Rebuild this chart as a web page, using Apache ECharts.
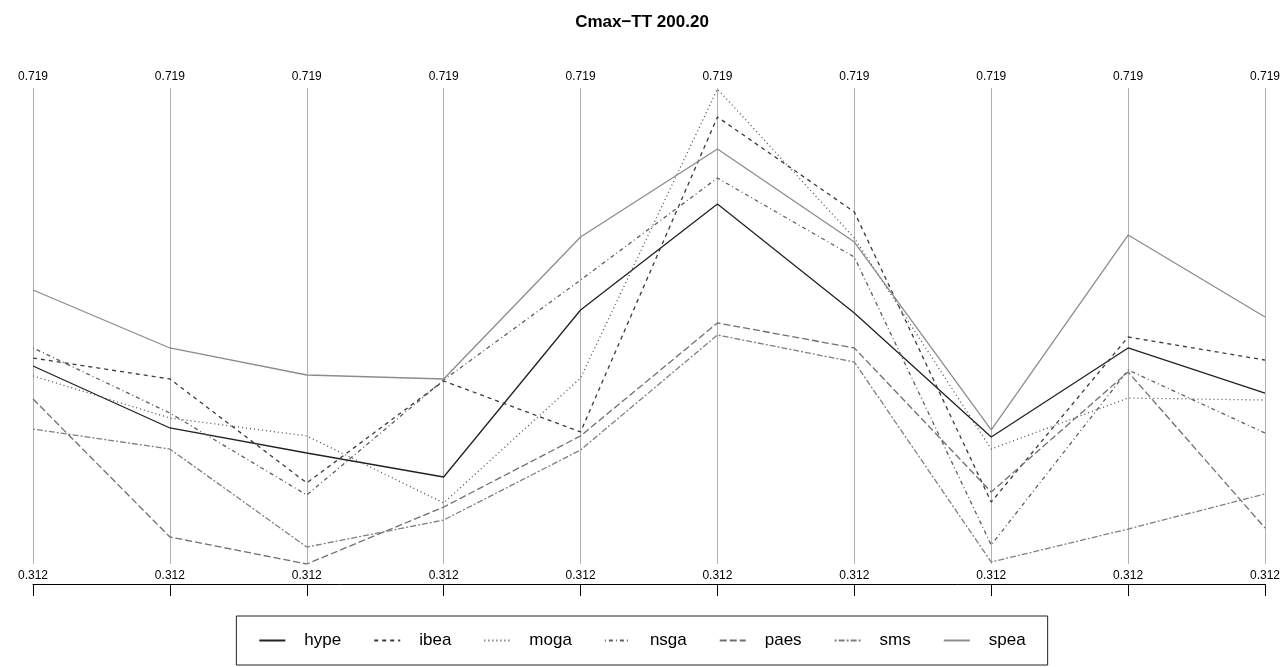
<!DOCTYPE html>
<html>
<head>
<meta charset="utf-8">
<script src="https://cdn.jsdelivr.net/npm/echarts@6/dist/echarts.min.js"></script>
<style>html,body{margin:0;padding:0;background:#fff}#c{width:1284px;height:667px}</style>
</head>
<body>
<div id="c"></div>
<script>
// ---- data ----
const categories = ['1','2','3','4','5','6','7','8','9','10'];
const topLabels = ['0.719','0.719','0.719','0.719','0.719','0.719','0.719','0.719','0.719','0.719'];
const bottomLabels = ['0.312','0.312','0.312','0.312','0.312','0.312','0.312','0.312','0.312','0.312'];
const yMin = 0.312, yMax = 0.719;
const seriesNames = ['hype','ibea','moga','nsga','paes','sms','spea'];
const hype = [0.4813, 0.4283, 0.4069, 0.3864, 0.5292, 0.6198, 0.5266, 0.4206, 0.4967, 0.4582];
const ibea = [0.4881, 0.4702, 0.3813, 0.4685, 0.4249, 0.6942, 0.6130, 0.3650, 0.5061, 0.4864];
const moga = [0.4728, 0.4368, 0.4215, 0.3642, 0.4710, 0.7181, 0.5907, 0.4103, 0.4539, 0.4522];
const nsga = [0.4967, 0.4411, 0.3710, 0.4693, 0.5548, 0.6420, 0.5745, 0.3282, 0.4779, 0.4240];
const paes = [0.4531, 0.3351, 0.3120, 0.3607, 0.4215, 0.5181, 0.4967, 0.3736, 0.4762, 0.3428];
const sms  = [0.4274, 0.4103, 0.3265, 0.3496, 0.4095, 0.5078, 0.4847, 0.3137, 0.3419, 0.3719];
const spea = [0.5463, 0.4967, 0.4736, 0.4702, 0.5916, 0.6668, 0.5873, 0.4266, 0.5933, 0.5232];
const seriesData = [hype, ibea, moga, nsga, paes, sms, spea];

// ---- styles ----
const colors = ['#222222','#3a3a3a','#505050','#5e5e5e','#707070','#808080','#8c8c8c'];
const dashes = ['solid',[4,4],[1,3],[1,3,4,3],[7,3],[2,2,6,2],'solid'];
const font = "'Liberation Sans', Arial, Helvetica, sans-serif";

const chart = echarts.init(document.getElementById('c'), null, {renderer:'canvas'});
chart.setOption({
  animation: false,
  backgroundColor: '#fff',
  textStyle: {fontFamily: font},
  title: {
    text: 'Cmax\u2212TT 200.20',
    left: 'center', top: 9,
    textStyle: {fontSize: 17, fontWeight: 'bold', color: '#000', fontFamily: font}
  },
  grid: {left: 33, right: 19, top: 88, bottom: 103, containLabel: false},
  xAxis: [
    {
      type: 'category', data: categories, boundaryGap: false, position: 'bottom', offset: 20,
      axisLine: {show: true, lineStyle: {color: '#000', width: 1}},
      axisTick: {show: true, inside: false, length: 12, alignWithLabel: true, interval: 0, lineStyle: {color: '#000'}},
      axisLabel: {show: false},
      splitLine: {show: true, interval: 0, lineStyle: {color: '#b0b0b0', width: 1}}
    },
    {
      type: 'category', data: categories, boundaryGap: false, position: 'bottom', offset: 0,
      axisLine: {show: false}, axisTick: {show: false}, splitLine: {show: false},
      axisLabel: {show: true, interval: 0, margin: 6, fontSize: 12, color: '#000', fontFamily: font,
        formatter: (v, i) => bottomLabels[i]}
    },
    {
      type: 'category', data: categories, boundaryGap: false, position: 'top', offset: 0,
      axisLine: {show: false}, axisTick: {show: false}, splitLine: {show: false},
      axisLabel: {show: true, interval: 0, margin: 5, fontSize: 12, color: '#000', fontFamily: font,
        formatter: (v, i) => topLabels[i]}
    }
  ],
  yAxis: {type: 'value', min: yMin, max: yMax, show: false, splitLine: {show: false}},
  legend: {
    data: seriesNames,
    left: 'center', top: 616,
    padding: [16, 22],
    itemWidth: 26, itemHeight: 14, itemGap: 32,
    borderColor: '#222', borderWidth: 1,
    itemStyle: {opacity: 0},
    textStyle: {fontSize: 17, color: '#000', fontFamily: font, padding: [0, 0, 0, 14]}
  },
  series: seriesNames.map((n, i) => ({
    name: n, type: 'line', data: seriesData[i], xAxisIndex: 0,
    symbol: 'none', smooth: false,
    lineStyle: {color: colors[i], width: 1.3, type: dashes[i]},
    itemStyle: {color: colors[i]},
    emphasis: {disabled: true}
  }))
});
</script>
</body>
</html>
